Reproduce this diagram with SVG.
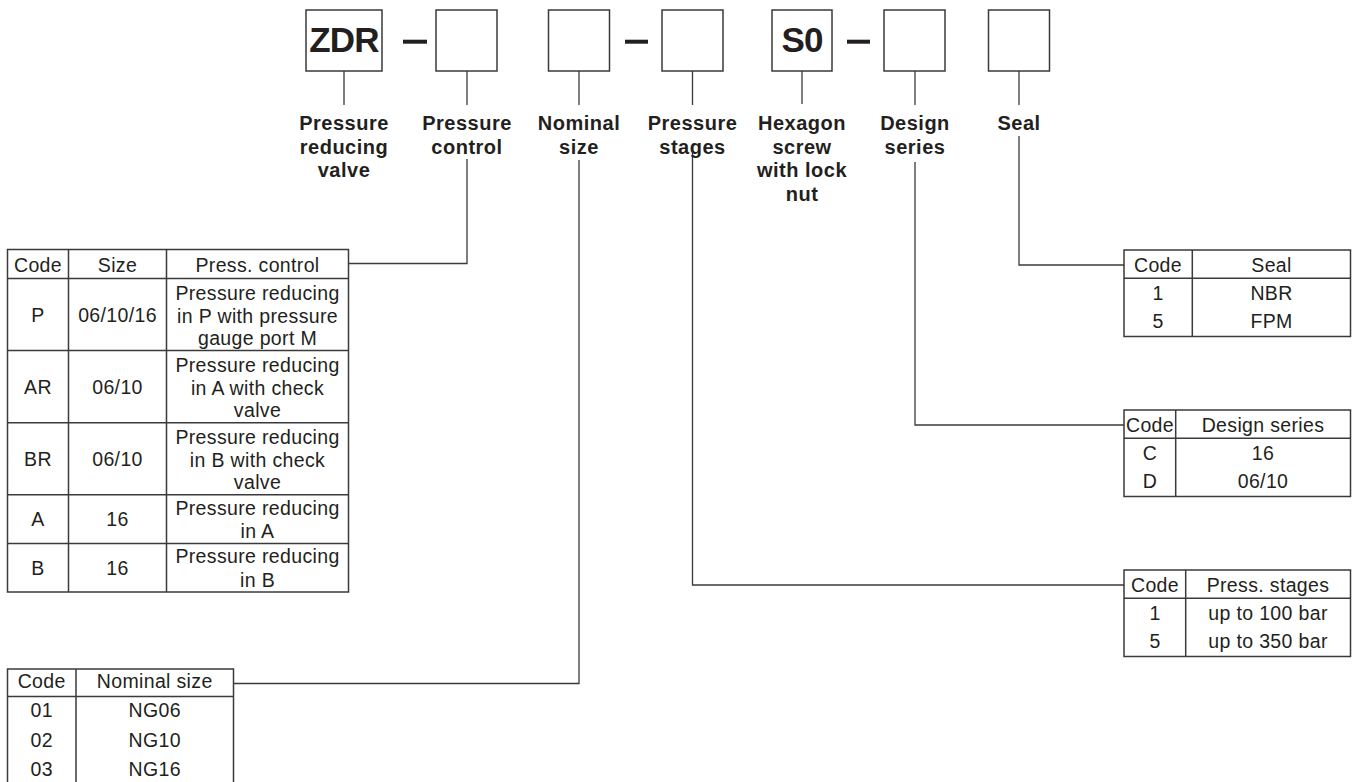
<svg xmlns="http://www.w3.org/2000/svg" width="1355" height="782" viewBox="0 0 1355 782">
<style>
.bx{fill:#fff;stroke:#3a3a3a;stroke-width:1.5}
.tb{fill:#fff;stroke:#3a3a3a;stroke-width:1.5}
.ln{fill:none;stroke:#3a3a3a;stroke-width:1.3}
.dash{stroke:#231f20;stroke-width:4}
.big{font-family:"Liberation Sans",Arial,sans-serif;font-weight:bold;font-size:35px;fill:#231f20;text-anchor:middle;letter-spacing:-0.8px}
.lbl{font-family:"Liberation Sans",Arial,sans-serif;font-weight:bold;font-size:20px;fill:#231f20;text-anchor:middle;letter-spacing:0.5px}
.t{font-family:"Liberation Sans",Arial,sans-serif;font-size:19.5px;fill:#231f20;text-anchor:middle;letter-spacing:0.35px}
</style>
<rect width="1355" height="782" fill="#fff"/>

<g id="connectors">
  <line class="ln" x1="344" y1="71" x2="344" y2="105"/>
  <line class="ln" x1="467" y1="71" x2="467" y2="105"/>
  <line class="ln" x1="579" y1="71" x2="579" y2="105"/>
  <line class="ln" x1="692.5" y1="71" x2="692.5" y2="105"/>
  <line class="ln" x1="802" y1="71" x2="802" y2="104"/>
  <line class="ln" x1="915" y1="71" x2="915" y2="105"/>
  <line class="ln" x1="1019" y1="71" x2="1019" y2="105"/>
  <polyline class="ln" points="467,159 467,263.5 348.5,263.5"/>
  <polyline class="ln" points="579,160 579,683.5 233.5,683.5"/>
  <polyline class="ln" points="692.5,153 692.5,585 1124,585"/>
  <polyline class="ln" points="915,162 915,425 1124,425"/>
  <polyline class="ln" points="1019,136 1019,265 1124,265"/>
  <line class="dash" x1="403" y1="41.7" x2="427" y2="41.7"/>
  <line class="dash" x1="625" y1="41.7" x2="648" y2="41.7"/>
  <line class="dash" x1="847" y1="41.7" x2="870" y2="41.7"/>
</g>

<g id="node-zdr">
  <rect class="bx" x="306" y="10" width="76" height="61"/>
  <text class="big" x="344" y="52">ZDR</text>
  <text class="lbl" x="344" y="130">Pressure</text>
  <text class="lbl" x="344" y="153.5">reducing</text>
  <text class="lbl" x="344" y="177">valve</text>
</g>
<g id="node-control">
  <rect class="bx" x="436" y="10" width="61" height="61"/>
  <text class="lbl" x="467" y="130">Pressure</text>
  <text class="lbl" x="467" y="153.5">control</text>
</g>
<g id="node-size">
  <rect class="bx" x="548.5" y="10" width="61" height="61"/>
  <text class="lbl" x="579" y="130">Nominal</text>
  <text class="lbl" x="579" y="153.5">size</text>
</g>
<g id="node-stages">
  <rect class="bx" x="662" y="10" width="61" height="61"/>
  <text class="lbl" x="692.5" y="130">Pressure</text>
  <text class="lbl" x="692.5" y="153.5">stages</text>
</g>
<g id="node-s0">
  <rect class="bx" x="772" y="10" width="60" height="61"/>
  <text class="big" x="802" y="52">S0</text>
  <text class="lbl" x="802" y="130">Hexagon</text>
  <text class="lbl" x="802" y="153.5">screw</text>
  <text class="lbl" x="802" y="177">with lock</text>
  <text class="lbl" x="802" y="200.5">nut</text>
</g>
<g id="node-design">
  <rect class="bx" x="884" y="10" width="61" height="61"/>
  <text class="lbl" x="915" y="130">Design</text>
  <text class="lbl" x="915" y="153.5">series</text>
</g>
<g id="node-seal">
  <rect class="bx" x="988.5" y="10" width="61" height="61"/>
  <text class="lbl" x="1019" y="130">Seal</text>
</g>

<g id="table-control">
  <rect class="tb" x="7.5" y="249.5" width="341" height="342.5"/>
  <line class="tb" x1="68.5" y1="249.5" x2="68.5" y2="592"/>
  <line class="tb" x1="166.5" y1="249.5" x2="166.5" y2="592"/>
  <line class="tb" x1="7.5" y1="278.5" x2="348.5" y2="278.5"/>
  <line class="tb" x1="7.5" y1="350.6" x2="348.5" y2="350.6"/>
  <line class="tb" x1="7.5" y1="422.7" x2="348.5" y2="422.7"/>
  <line class="tb" x1="7.5" y1="494.8" x2="348.5" y2="494.8"/>
  <line class="tb" x1="7.5" y1="543.4" x2="348.5" y2="543.4"/>
  <text class="t" x="38" y="272">Code</text>
  <text class="t" x="117.5" y="272">Size</text>
  <text class="t" x="257.5" y="272">Press. control</text>
  <text class="t" x="38" y="321.5">P</text>
  <text class="t" x="117.5" y="321.5">06/10/16</text>
  <text class="t" x="257.5" y="300">Pressure reducing</text>
  <text class="t" x="257.5" y="322.5">in P with pressure</text>
  <text class="t" x="257.5" y="345">gauge port M</text>
  <text class="t" x="38" y="393.5">AR</text>
  <text class="t" x="117.5" y="393.5">06/10</text>
  <text class="t" x="257.5" y="372">Pressure reducing</text>
  <text class="t" x="257.5" y="394.5">in A with check</text>
  <text class="t" x="257.5" y="417">valve</text>
  <text class="t" x="38" y="465.5">BR</text>
  <text class="t" x="117.5" y="465.5">06/10</text>
  <text class="t" x="257.5" y="444">Pressure reducing</text>
  <text class="t" x="257.5" y="466.5">in B with check</text>
  <text class="t" x="257.5" y="489">valve</text>
  <text class="t" x="38" y="526">A</text>
  <text class="t" x="117.5" y="526">16</text>
  <text class="t" x="257.5" y="514.5">Pressure reducing</text>
  <text class="t" x="257.5" y="538">in A</text>
  <text class="t" x="38" y="574.5">B</text>
  <text class="t" x="117.5" y="574.5">16</text>
  <text class="t" x="257.5" y="563">Pressure reducing</text>
  <text class="t" x="257.5" y="586.5">in B</text>
</g>

<g id="table-size">
  <rect class="tb" x="7.5" y="669" width="226" height="120"/>
  <line class="tb" x1="76" y1="669" x2="76" y2="789"/>
  <line class="tb" x1="7.5" y1="696.5" x2="233.5" y2="696.5"/>
  <text class="t" x="41.7" y="687.5">Code</text>
  <text class="t" x="154.7" y="687.5">Nominal size</text>
  <text class="t" x="41.7" y="717">01</text>
  <text class="t" x="154.7" y="717">NG06</text>
  <text class="t" x="41.7" y="746.5">02</text>
  <text class="t" x="154.7" y="746.5">NG10</text>
  <text class="t" x="41.7" y="776">03</text>
  <text class="t" x="154.7" y="776">NG16</text>
</g>

<g id="table-seal">
  <rect class="tb" x="1124" y="250" width="226.5" height="86.5"/>
  <line class="tb" x1="1192.3" y1="250" x2="1192.3" y2="336.5"/>
  <line class="tb" x1="1124" y1="278.3" x2="1350.5" y2="278.3"/>
  <text class="t" x="1158" y="271.5">Code</text>
  <text class="t" x="1271.5" y="271.5">Seal</text>
  <text class="t" x="1158" y="300">1</text>
  <text class="t" x="1271.5" y="300">NBR</text>
  <text class="t" x="1158" y="328.3">5</text>
  <text class="t" x="1271.5" y="328.3">FPM</text>
</g>

<g id="table-design">
  <rect class="tb" x="1124" y="410" width="226.5" height="86.5"/>
  <line class="tb" x1="1175.7" y1="410" x2="1175.7" y2="496.5"/>
  <line class="tb" x1="1124" y1="438.3" x2="1350.5" y2="438.3"/>
  <text class="t" x="1150" y="431.5">Code</text>
  <text class="t" x="1263" y="431.5">Design series</text>
  <text class="t" x="1150" y="460">C</text>
  <text class="t" x="1263" y="460">16</text>
  <text class="t" x="1150" y="488.3">D</text>
  <text class="t" x="1263" y="488.3">06/10</text>
</g>

<g id="table-stages">
  <rect class="tb" x="1124" y="570" width="226.5" height="86.5"/>
  <line class="tb" x1="1185.7" y1="570" x2="1185.7" y2="656.5"/>
  <line class="tb" x1="1124" y1="598.3" x2="1350.5" y2="598.3"/>
  <text class="t" x="1155" y="591.5">Code</text>
  <text class="t" x="1268" y="591.5">Press. stages</text>
  <text class="t" x="1155" y="620">1</text>
  <text class="t" x="1268" y="620">up to 100 bar</text>
  <text class="t" x="1155" y="648.3">5</text>
  <text class="t" x="1268" y="648.3">up to 350 bar</text>
</g>
</svg>
